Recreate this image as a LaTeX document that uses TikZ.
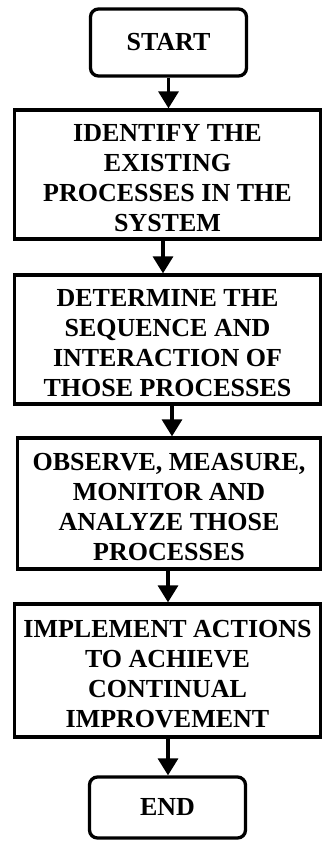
\documentclass[tikz,border=0pt]{standalone}
\usepackage{fontspec}
\setmainfont{Liberation Serif}
\usetikzlibrary{arrows.meta}
\newcommand{\tgap}{\rule{0pt}{24pt}}
\begin{document}
\begin{tikzpicture}[x=1pt,y=1pt,
  txt/.style={font=\bfseries\fontsize{26}{30}\selectfont, align=center, inner sep=0pt},
  box/.style={txt, draw, line width=3.3pt, minimum width=306pt},
  term/.style={txt, draw, line width=3.3pt, rounded corners=8pt, minimum width=156pt},
  arr/.style={-{Triangle[width=20pt,length=17pt]}, line width=3.3pt}]
\useasboundingbox (0,0) rectangle (322,-841);
\node[term, minimum height=67pt] (start) at (168.5,-42.5) {START};
\node[box, minimum height=129pt] (b1) at (167.5,-174.5) {\tgap IDENTIFY THE\\EXISTING\\PROCESSES IN THE\\SYSTEM};
\node[box, minimum height=129pt] (b2) at (167.5,-339.5) {\tgap DETERMINE THE\\SEQUENCE AND\\INTERACTION OF\\THOSE PROCESSES};
\node[box, minimum height=131pt, minimum width=303pt] (b3) at (169,-503.5) {\tgap OBSERVE, MEASURE,\\MONITOR AND\\ANALYZE THOSE\\PROCESSES};
\node[box, minimum height=133pt] (b4) at (167.5,-670.5) {\tgap IMPLEMENT ACTIONS\\TO ACHIEVE\\CONTINUAL\\IMPROVEMENT};
\node[term, minimum height=61pt] (end) at (167.5,-807.5) {END};
\draw[arr] (start.south) -- (start.south |- b1.north);
\draw[arr] ([xshift=-4.5pt]b1.south) -- ([xshift=-4.5pt]b1.south |- b2.north);
\draw[arr] ([xshift=4.5pt]b2.south) -- ([xshift=4.5pt]b2.south |- b3.north);
\draw[arr] ([xshift=-1pt]b3.south) -- ([xshift=-1pt]b3.south |- b4.north);
\draw[arr] ([xshift=0.5pt]b4.south) -- ([xshift=0.5pt]b4.south |- end.north);
\end{tikzpicture}
\end{document}
